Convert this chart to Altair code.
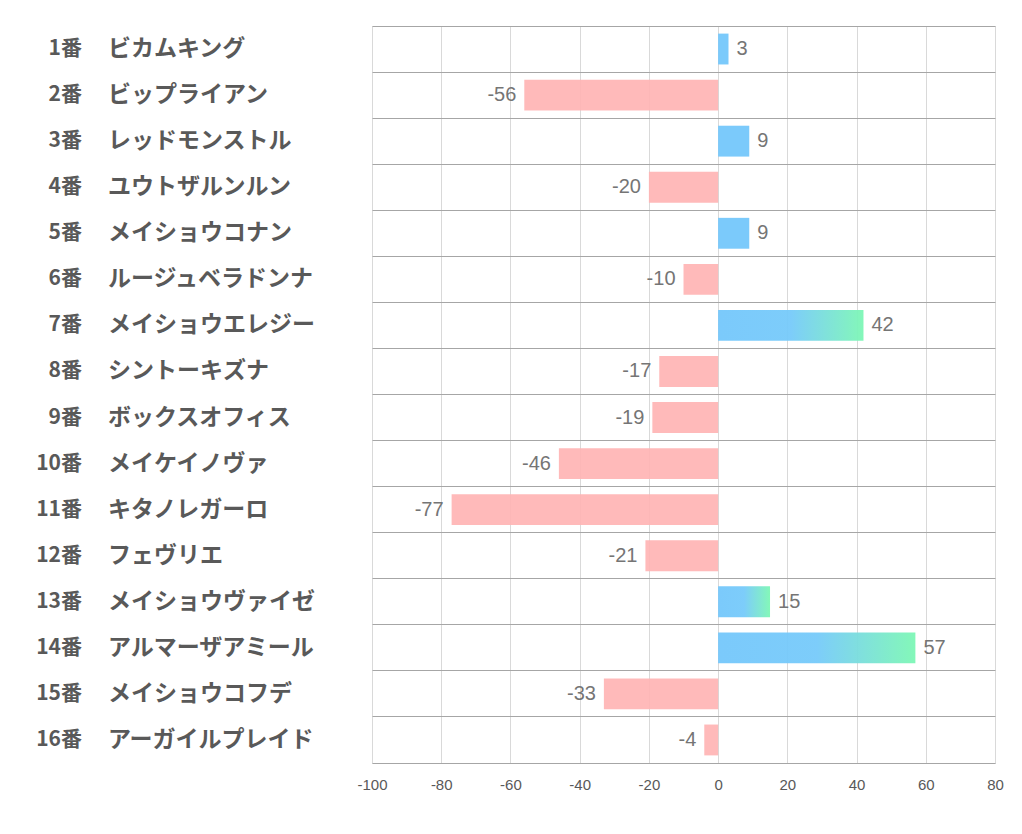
import altair as alt
import pandas as pd

nums = [f"{i}番" for i in range(1, 17)]
names = ["ビカムキング", "ビップライアン", "レッドモンストル", "ユウトザルンルン",
         "メイショウコナン", "ルージュベラドンナ", "メイショウエレジー", "シントーキズナ",
         "ボックスオフィス", "メイケイノヴァ", "キタノレガーロ", "フェヴリエ",
         "メイショウヴァイゼ", "アルマーザアミール", "メイショウコフデ", "アーガイルプレイド"]
values = [3, -56, 9, -20, 9, -10, 42, -17, -19, -46, -77, -21, 15, 57, -33, -4]

df = pd.DataFrame({"num": nums, "name": names, "value": values})
df["kind"] = ["neg" if v < 0 else ("hot" if v >= 10 else "pos") for v in values]
df["label"] = [str(v) for v in values]

W, H = 623, 737
LEFT = 364

x = alt.X("value:Q", scale=alt.Scale(domain=[-100, 80], nice=False, zero=False),
          axis=alt.Axis(values=list(range(-100, 81, 20)), title=None, grid=True,
                        gridColor="#D9D9D9", domainColor="#A6A6A6", ticks=False,
                        labelColor="#595959", labelFontSize=15, labelPadding=14,
                        labelFont="Liberation Sans", labelFlush=False,
                        labelExpr="replace(datum.label, '−', '-')"))
y = alt.Y("num:N", sort=nums, scale=alt.Scale(paddingInner=0, paddingOuter=0),
          axis=alt.Axis(title=None, labels=False, ticks=False, domain=False, grid=True,
                        gridColor="#A6A6A6", bandPosition=0))
y2 = alt.Y("num:N", sort=nums)

base = alt.Chart(df)

bar_neg = base.transform_filter("datum.kind == 'neg'").mark_bar(
    height={"band": 0.67}, color="#FFB3B3", opacity=0.9).encode(x=x, y=y, x2=alt.datum(0))
bar_pos = base.transform_filter("datum.kind == 'pos'").mark_bar(
    height={"band": 0.67}, color="#74C7FB", opacity=0.95).encode(x=x, y=y, x2=alt.datum(0))
grad = alt.Gradient(gradient="linear", x1=0, x2=1, y1=0, y2=0,
                    stops=[alt.GradientStop(offset=0, color="#74C7FB"),
                           alt.GradientStop(offset=0.5, color="#76CAFA"),
                           alt.GradientStop(offset=1, color="#7DF7B5")])
bar_hot = base.transform_filter("datum.kind == 'hot'").mark_bar(
    height={"band": 0.67}, color=grad, opacity=0.95).encode(x=x, y=y, x2=alt.datum(0))

lab_pos = base.transform_filter("datum.value >= 0").mark_text(
    align="left", dx=8, fontSize=20, color="#757575", font="Liberation Sans").encode(
    x="value:Q", y=y2, text="label:N")
lab_neg = base.transform_filter("datum.value < 0").mark_text(
    align="right", dx=-8, fontSize=20, color="#757575", font="Liberation Sans").encode(
    x="value:Q", y=y2, text="label:N")

num_txt = base.mark_text(align="right", fontSize=21, fontWeight="bold", color="#595959",
                         font="Noto Sans CJK JP").encode(
    x=alt.value(82 - 8 - LEFT), y=y2, text="num:N")
name_txt = base.mark_text(align="left", fontSize=23, fontWeight="bold", color="#595959",
                          font="Noto Sans CJK JP").encode(
    x=alt.value(108 - 8 - LEFT), y=y2, text="name:N")

chart = alt.layer(bar_neg, bar_pos, bar_hot, lab_pos, lab_neg, num_txt, name_txt).properties(
    width=W, height=H,
    autosize=alt.AutoSizeParams(type="none"),
    padding={"left": LEFT, "top": 18, "right": 10, "bottom": 60},
).configure_view(stroke=None).configure(background="white")

chart.save("out.html", embed_options={"renderer": "svg", "actions": False})
